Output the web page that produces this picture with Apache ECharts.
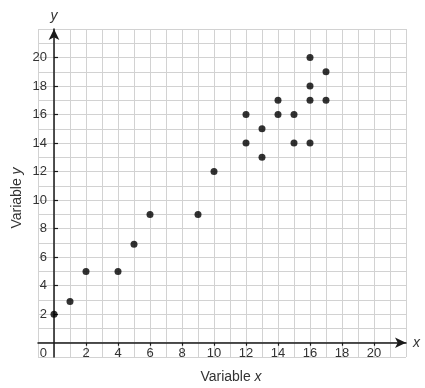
<!DOCTYPE html>
<html>
<head>
<meta charset="utf-8">
<script src="https://cdn.jsdelivr.net/npm/echarts@6/dist/echarts.min.js"></script>
<style>html,body{margin:0;padding:0;background:#fff}#c{width:425px;height:388px}</style>
</head>
<body>
<div id="c"></div>
<script>
const xValues = [0, 1, 2, 4, 5, 6, 9, 10, 12, 12, 13, 13, 14, 14, 15, 15, 16, 16, 16, 16, 17, 17];
const yValues = [2, 2.9, 5, 5, 6.9, 9, 9, 12, 16, 14, 15, 13, 17, 16, 16, 14, 20, 18, 17, 14, 19, 17];
const xTickLabels = [2, 4, 6, 8, 10, 12, 14, 16, 18, 20];
const yTickLabels = [0, 2, 4, 6, 8, 10, 12, 14, 16, 18, 20];
const evenTicks = [2, 4, 6, 8, 10, 12, 14, 16, 18, 20];

const points = xValues.map((x, i) => [x, yValues[i]]);
const FONT = 'Liberation Sans, Arial, sans-serif';
const gridColor = '#d2d2d2';
const axisColor = '#1a1a1a';
const textColor = '#333';

const gridAxis = {
  type: 'value', min: -1, max: 22, interval: 1,
  splitLine: {show: true, lineStyle: {color: gridColor, width: 1}},
  axisLine: {show: false, onZero: false},
  axisTick: {show: false},
  axisLabel: {show: false}
};

const chart = echarts.init(document.getElementById('c'), null, {renderer: 'canvas'});
chart.setOption({
  animation: false,
  grid: {left: 38, right: 19, top: 29, bottom: 31, containLabel: false, outerBoundsMode: 'none'},
  xAxis: [
    {
      type: 'value', min: -1, max: 22, interval: 1,
      splitLine: {show: false},
      axisLine: {show: true, onZero: true, symbol: ['none', 'arrow'], symbolSize: [8, 11], lineStyle: {color: axisColor, width: 1.5}},
      axisTick: {show: true, customValues: evenTicks, length: 3, inside: false, lineStyle: {color: axisColor, width: 1.2}},
      axisLabel: {show: true, customValues: xTickLabels, fontFamily: FONT, fontSize: 13, color: textColor, margin: -10},
      name: 'x', nameLocation: 'end', nameGap: 7,
      nameTextStyle: {fontFamily: FONT, fontSize: 14, fontStyle: 'italic', color: textColor, verticalAlign: 'middle'}
    },
    Object.assign({
      position: 'bottom',
      name: '{a|Variable }{b|x}', nameLocation: 'middle', nameGap: 13,
      nameTextStyle: {padding: [0, 0, 0, 18], rich: {
        a: {fontFamily: FONT, fontSize: 14, color: textColor},
        b: {fontFamily: FONT, fontSize: 14, color: textColor, fontStyle: 'italic'}
      }}
    }, gridAxis)
  ],
  yAxis: [
    {
      type: 'value', min: -1, max: 22, interval: 1,
      splitLine: {show: false},
      axisLine: {show: true, onZero: true, symbol: ['none', 'arrow'], symbolSize: [8, 11], lineStyle: {color: axisColor, width: 1.5}},
      axisTick: {show: true, customValues: evenTicks, length: 4, inside: true, lineStyle: {color: axisColor, width: 1.2}},
      axisLabel: {
        show: true, customValues: yTickLabels, fontFamily: FONT, fontSize: 13, color: textColor, margin: -9,
        formatter: v => v === 0 ? '{z|0}' : String(v),
        rich: {z: {fontFamily: FONT, fontSize: 13, color: textColor, padding: [21, 0, 0, 0]}}
      },
      name: 'y', nameLocation: 'end', nameGap: 6,
      nameTextStyle: {fontFamily: FONT, fontSize: 14, fontStyle: 'italic', color: textColor}
    },
    Object.assign({
      position: 'left',
      name: '{a|Variable }{b|y}', nameLocation: 'middle', nameGap: 14, nameRotate: 90,
      nameTextStyle: {padding: [0, 10, 0, 0], rich: {
        a: {fontFamily: FONT, fontSize: 14, color: textColor},
        b: {fontFamily: FONT, fontSize: 14, color: textColor, fontStyle: 'italic'}
      }}
    }, gridAxis)
  ],
  series: [{
    type: 'scatter', xAxisIndex: 0, yAxisIndex: 0,
    data: points, symbolSize: 7,
    itemStyle: {color: '#000'}
  }]
});
</script>
</body>
</html>
